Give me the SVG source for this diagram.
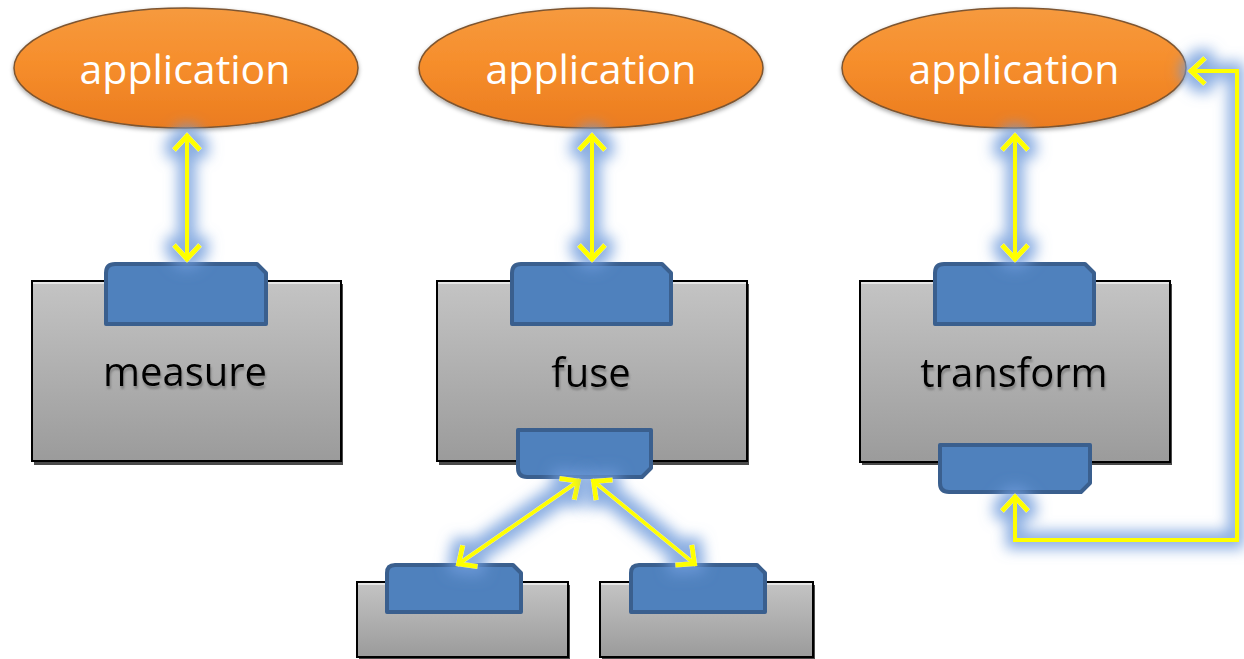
<svg xmlns="http://www.w3.org/2000/svg" width="1244" height="659" viewBox="0 0 1244 659">
  <style>
    .app { fill: url(#orange); stroke: #7d5530; stroke-width: 1.5; filter: url(#soft-shadow); }
    .app-text { font-family: "Open Sans", "Liberation Sans", sans-serif; font-size: 41px; fill: #ffffff; text-anchor: middle; }
    .box { fill: url(#grey); stroke: #000000; stroke-width: 2; }
    .box-shadow { fill: #4a4a4a; }
    .box-hl { stroke: #f2f2f2; stroke-width: 1.5; }
    .tab { fill: #4f81bd; stroke: #3a5f8e; stroke-width: 4; stroke-linejoin: round; }
    .label { font-family: "Open Sans", "Liberation Sans", sans-serif; font-size: 40px; text-anchor: middle; fill: #000000; filter: url(#text-shadow); }
    .link { fill: none; stroke: #ffff00; stroke-width: 4; stroke-linejoin: miter; marker-start: url(#head); marker-end: url(#head); filter: url(#glow); }
  </style>
  <defs>
    <linearGradient id="orange" x1="0" y1="0" x2="0" y2="1">
      <stop offset="0" stop-color="#f69a3e"/>
      <stop offset="0.45" stop-color="#f68e2c"/>
      <stop offset="1" stop-color="#eb7c1f"/>
    </linearGradient>
    <linearGradient id="grey" x1="0" y1="0" x2="0" y2="1">
      <stop offset="0" stop-color="#c4c4c4"/>
      <stop offset="1" stop-color="#9b9b9b"/>
    </linearGradient>
    <filter id="soft-shadow" x="-10%" y="-20%" width="120%" height="150%">
      <feDropShadow dx="0" dy="2" stdDeviation="2" flood-color="#000000" flood-opacity="0.35"/>
    </filter>
    <filter id="text-shadow" x="-10%" y="-20%" width="120%" height="150%">
      <feDropShadow dx="1" dy="3" stdDeviation="1" flood-color="#5a5a5a" flood-opacity="0.55"/>
    </filter>
    <!-- soft blue halo round the yellow links -->
    <filter id="glow" filterUnits="userSpaceOnUse" x="0" y="0" width="1244" height="659">
      <feMorphology in="SourceAlpha" operator="dilate" radius="7" result="thick"/>
      <feGaussianBlur in="thick" stdDeviation="7" result="soft"/>
      <feFlood flood-color="#6f9bdb" flood-opacity="0.8"/>
      <feComposite in2="soft" operator="in" result="halo"/>
      <feMerge>
        <feMergeNode in="halo"/>
        <feMergeNode in="SourceGraphic"/>
      </feMerge>
    </filter>
    <!-- open chevron arrowhead, tip at the path end -->
    <marker id="head" markerUnits="userSpaceOnUse" markerWidth="40" markerHeight="40" viewBox="-20 -20 40 40" refX="0" refY="0" orient="auto-start-reverse" overflow="visible">
      <path d="M-16,-13 L-2,0 L-16,13" fill="none" stroke="#ffff00" stroke-width="5" stroke-linejoin="miter"/>
    </marker>
  </defs>

  <!-- application ellipses -->
  <g id="app-1">
    <ellipse class="app" cx="186" cy="68" rx="172" ry="60"/>
    <text class="app-text" x="185" y="84">application</text>
  </g>
  <g id="app-2">
    <ellipse class="app" cx="591" cy="68" rx="172" ry="60"/>
    <text class="app-text" x="591" y="84">application</text>
  </g>
  <g id="app-3">
    <ellipse class="app" cx="1014" cy="68" rx="172" ry="60"/>
    <text class="app-text" x="1014" y="84">application</text>
  </g>

  <!-- measure -->
  <g id="measure">
    <rect class="box-shadow" x="34" y="284" width="309" height="181"/>
    <rect class="box" x="32" y="281" width="309" height="180"/>
    <line class="box-hl" x1="33" y1="283" x2="340" y2="283"/>
    <path class="tab" d="M106,324 V273 Q106,264 115,264 H257 L266,273 V324 Z"/>
    <text class="label" x="185" y="386">measure</text>
  </g>

  <!-- fuse -->
  <g id="fuse">
    <rect class="box-shadow" x="439" y="284" width="310" height="181"/>
    <rect class="box" x="437" y="281" width="310" height="180"/>
    <line class="box-hl" x1="438" y1="283" x2="746" y2="283"/>
    <path class="tab" d="M512,324 V273 Q512,264 521,264 H662 L671,273 V324 Z"/>
    <path class="tab" d="M518,430 H651 V468 L642,477 H527 Q518,477 518,468 Z"/>
    <text class="label" x="591" y="387">fuse</text>
  </g>

  <!-- fuse inputs -->
  <g id="source-left">
    <rect class="box-shadow" x="359" y="585" width="211" height="74"/>
    <rect class="box" x="357" y="582" width="211" height="75"/>
    <line class="box-hl" x1="358" y1="584" x2="567" y2="584"/>
    <path class="tab" d="M387,612 V573 Q387,565 395,565 H513 L521,573 V612 Z"/>
  </g>
  <g id="source-right">
    <rect class="box-shadow" x="602" y="585" width="213" height="74"/>
    <rect class="box" x="600" y="582" width="213" height="75"/>
    <line class="box-hl" x1="601" y1="584" x2="812" y2="584"/>
    <path class="tab" d="M631,612 V573 Q631,565 639,565 H757 L765,573 V612 Z"/>
  </g>

  <!-- transform -->
  <g id="transform">
    <rect class="box-shadow" x="862" y="284" width="310" height="181"/>
    <rect class="box" x="860" y="281" width="310" height="181"/>
    <line class="box-hl" x1="861" y1="283" x2="1169" y2="283"/>
    <path class="tab" d="M935,324 V273 Q935,264 944,264 H1085 L1094,273 V324 Z"/>
    <path class="tab" d="M940,445 H1090 V483 L1081,492 H949 Q940,492 940,483 Z"/>
    <text class="label" x="1014" y="387">transform</text>
  </g>

  <!-- connectors -->
  <g id="connectors">
    <path class="link" d="M187,134 V261"/>
    <path class="link" d="M592,134 V261"/>
    <path class="link" d="M1015,134 V261"/>
    <path class="link" d="M580,480 L457,565"/>
    <path class="link" d="M592,480 L696,565"/>
    <path class="link" d="M1015,495 V540 H1237 V71 H1189"/>
  </g>
</svg>
